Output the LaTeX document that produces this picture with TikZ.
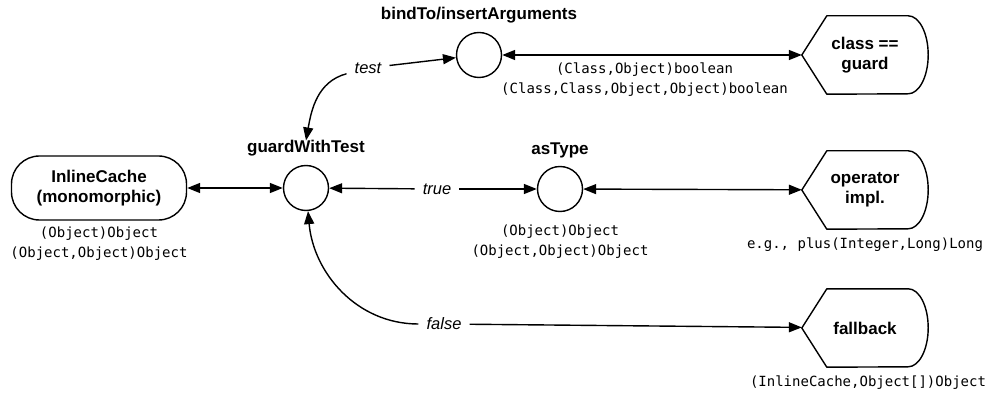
\documentclass[tikz,border=0pt]{standalone}
\usepackage{fontspec}
\setmainfont{Liberation Sans}
\newfontfamily\sigmono{DejaVu Sans Mono}
\usetikzlibrary{positioning, arrows.meta}

\newcommand{\titlefont}{\bfseries\fontsize{17}{20}\selectfont}
\newcommand{\sigfont}{\sigmono\fontsize{14}{20}\selectfont}
\newcommand{\condfont}{\itshape\fontsize{16.5}{19}\selectfont}

% outline of a display box: pointed on the left, rounded on the right
\newcommand{\dispoutline}[1]{%
	\draw[line width=1.4pt, line join=round]
		(#1.west) -- ([xshift=25pt]#1.north west)
		-- ([xshift=-20pt]#1.north east)
		arc[start angle=90, end angle=-90, x radius=20pt, y radius=39pt]
		-- ([xshift=25pt]#1.south west) -- cycle;}

\tikzset{
	hub/.style={circle, draw, line width=1.4pt, minimum size=45pt, inner sep=0pt},
	cachebox/.style={rectangle, draw, line width=1.4pt, rounded corners=28pt,
		minimum width=175pt, minimum height=64pt, align=center, font=\titlefont},
	dispbox/.style={minimum width=126pt, minimum height=78pt, inner sep=0pt,
		align=center, font=\titlefont},
	title/.style={font=\titlefont, inner sep=0pt},
	sig/.style={font=\sigfont, align=center, inner sep=0pt},
	cond/.style={font=\condfont, inner sep=8pt},
	link/.style={line width=1.4pt, -{Triangle[length=13pt, width=10pt]}},
	both/.style={line width=1.4pt, {Triangle[length=13pt, width=10pt]}-{Triangle[length=13pt, width=10pt]}},
}

\begin{document}
\begin{tikzpicture}[x=1pt, y=1pt]
	\useasboundingbox (0,0) rectangle (987,-395);

	% main nodes
	\node[cachebox] (cache) at (99,-188) {InlineCache\\(monomorphic)};
	\node[hub] (gwt) at (306,-188) {};
	\node[hub] (bind) at (479,-55) {};
	\node[hub] (astype) at (560,-189) {};

	\node[dispbox] (guard) at (865,-55) {class ==\\guard};
	\node[dispbox] (opimpl) at (865,-190) {operator\\impl.};
	\node[dispbox] (fallback) at (865,-328) {fallback};
	\dispoutline{guard}
	\dispoutline{opimpl}
	\dispoutline{fallback}

	% names and signatures
	\node[title, above=8pt of gwt] (gwtname) {guardWithTest};
	\node[title, above=8pt of bind] (bindname) {bindTo/insertArguments};
	\node[title, above=8pt of astype] (astypename) {asType};

	\node[sig, below=6pt of cache] (cachesig) {(Object)Object\\(Object,Object)Object};
	\node[sig, below=12pt of astype] (astypesig) {(Object)Object\\(Object,Object)Object};
	\node[sig, below=8pt of opimpl] (opimplsig) {e.g., plus(Integer,Long)Long};
	\node[sig, below=8pt of fallback, xshift=3pt] (fallbacksig) {(InlineCache,Object[])Object};

	% conditions
	\node[cond] (test) at (368,-68) {test};
	\node[cond] (true) at (437,-189) {true};
	\node[cond] (false) at (444,-324) {false};

	% connectors
	\draw[both] (cache) -- (gwt);
	\draw[link] (true) -- (gwt);
	\draw[link] (true) -- (astype);
	\draw[both] (astype) -- (opimpl);
	\draw[link] (test) -- (bind);
	\draw[link] (test) to[out=195, in=80] (gwtname.north);
	\draw[both] (bind) -- node[sig, below=7pt, pos=0.475] (bindsig)
		{(Class,Object)boolean\\(Class,Class,Object,Object)boolean} (guard);
	\draw[link] (false) to[out=180, in=-85] (gwt);
	\draw[link] (false) -- (fallback);
\end{tikzpicture}
\end{document}
